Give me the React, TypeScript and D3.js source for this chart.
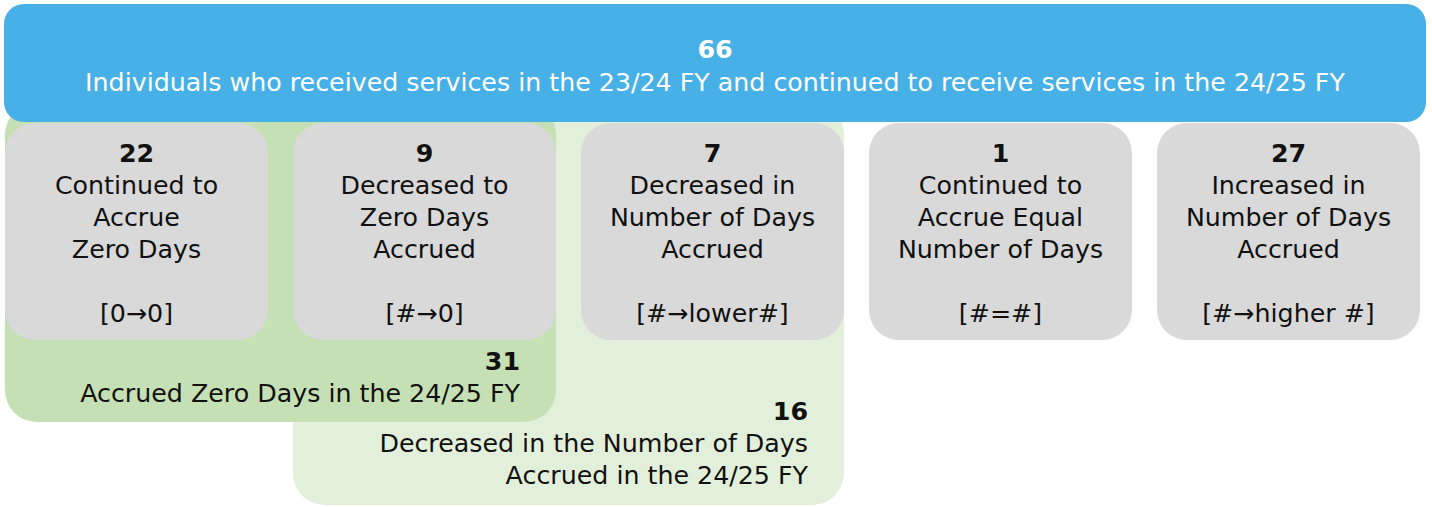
import React from "react";
import * as d3 from "d3";

const totalCount = 66;
const totalLabel = "Individuals who received services in the 23/24 FY and continued to receive services in the 24/25 FY";

const categoryCounts = [22, 9, 7, 1, 27];
const categoryLabels = [
  ["Continued to", "Accrue", "Zero Days"],
  ["Decreased to", "Zero Days", "Accrued"],
  ["Decreased in", "Number of Days", "Accrued"],
  ["Continued to", "Accrue Equal", "Number of Days"],
  ["Increased in", "Number of Days", "Accrued"],
];
const categoryCodes = ["[0\u21920]", "[#\u21920]", "[#\u2192lower#]", "[#=#]", "[#\u2192higher #]"];

const groupCounts = [31, 16];
const groupLabels = [["Accrued Zero Days in the 24/25 FY"], ["Decreased in the Number of Days", "Accrued in the 24/25 FY"]];
const groupSpans = [[0, 1], [1, 2]];

const W = 1432;
const H = 507;
const FONT = "'DejaVu Sans', sans-serif";
const FS = 25.3;

export default function App() {
  const x = d3
    .scaleBand<number>()
    .domain(d3.range(categoryCounts.length))
    .range([5, 1420])
    .paddingInner(0.0868)
    .paddingOuter(0);
  const bw = x.bandwidth();
  const boxTop = 123;
  const boxBottom = 340;
  const groupBottoms = [422, 505];
  const groupFills = ["#c5e0b4", "#e2efda"];

  return (
    <svg width={W} height={H} style={{ position: "absolute", left: 0, top: 0 }} fontFamily={FONT}>
      <rect x={0} y={0} width={W} height={H} fill="#ffffff" />
      {[1, 0].map((g) => {
        const x0 = x(groupSpans[g][0])!;
        const x1 = x(groupSpans[g][1])! + bw;
        const top = boxTop;
        const bottom = groupBottoms[g];
        const lines = groupLabels[g];
        const textRight = x1 - 36;
        const numY = g === 0 ? 370 : 420;
        return (
          <g key={g}>
            <rect x={x0} y={top - 20} width={x1 - x0} height={bottom - top + 20} rx={32} fill={groupFills[g]} />
            <text x={textRight} y={numY} textAnchor="end" fontWeight="bold" fontSize={FS} fill="#111">
              {groupCounts[g]}
            </text>
            {lines.map((l, i) => (
              <text key={i} x={textRight} y={numY + 32 + i * 32} textAnchor="end" fontSize={FS} fill="#111">
                {l}
              </text>
            ))}
          </g>
        );
      })}
      {categoryCounts.map((c, i) => {
        const bx = x(i)!;
        const cx = bx + bw / 2;
        return (
          <g key={i}>
            <rect x={bx} y={boxTop} width={bw} height={boxBottom - boxTop} rx={30} fill="#d9d9d9" />
            <text x={cx} y={162} textAnchor="middle" fontWeight="bold" fontSize={FS} fill="#111">
              {c}
            </text>
            {categoryLabels[i].map((l, j) => (
              <text key={j} x={cx} y={194 + j * 32} textAnchor="middle" fontSize={FS} fill="#111">
                {l}
              </text>
            ))}
            <text x={cx} y={322} textAnchor="middle" fontSize={FS} fill="#111">
              {categoryCodes[i]}
            </text>
          </g>
        );
      })}
      <rect x={4} y={4} width={1422} height={118} rx={20} fill="#47b0e6" />
      <text x={715} y={58} textAnchor="middle" fontWeight="bold" fontSize={FS} fill="#ffffff">
        {totalCount}
      </text>
      <text x={715} y={91} textAnchor="middle" fontSize={FS} fill="#ffffff">
        {totalLabel}
      </text>
    </svg>
  );
}
